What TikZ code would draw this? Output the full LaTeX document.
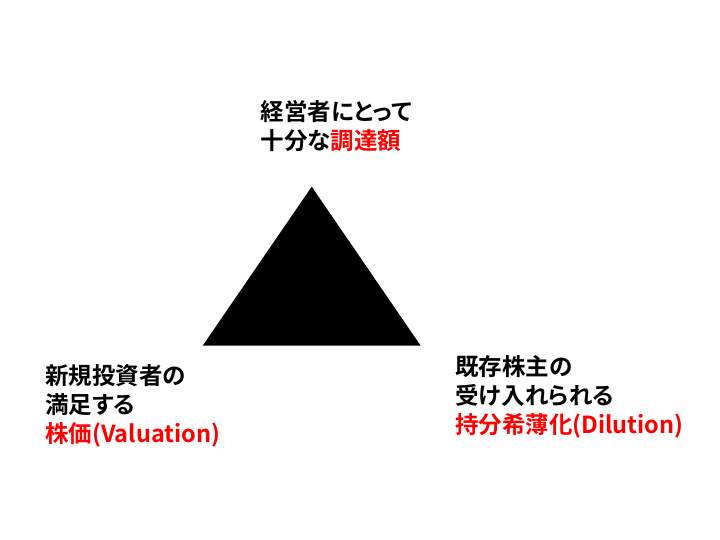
\documentclass[tikz,border=0pt]{standalone}
\usepackage{fontspec}
\setmainfont{Noto Sans CJK JP}[BoldFont={* Bold},RawFeature=+palt]
\usetikzlibrary{positioning}
\definecolor{Ink}{RGB}{0,0,0}
\definecolor{Alert}{RGB}{255,0,0}
\tikzset{
  corner/.style={anchor=base west,align=left,inner sep=0pt,text=Ink,font=\bfseries\fontsize{23.5pt}{29pt}\selectfont}
}
\newcommand{\hl}[1]{\textcolor{Alert}{#1}}

\begin{document}
\begin{tikzpicture}[x=1pt,y=-1pt]
  \useasboundingbox[fill=white] (0,0) rectangle (720,540);
  \coordinate (apex) at (311.7,186.7);
  \coordinate (baseL) at (202.7,345.7);
  \coordinate (baseR) at (420.7,345.7);
  \fill[Ink] (apex) -- (baseL) -- (baseR) -- cycle;
  % base anchor sits on the last line
  \node[corner] (funds) at (260.7,149.5) {経営者にとって\\十分な\hl{調達額}};
  \node[corner] (investor) at (45,442) {新規投資者の\\満足する\\\hl{株価(Valuation)}};
  \node[corner] (holder) at (455,433.5) {既存株主の\\受け入れられる\\\hl{持分希薄化(Dilution)}};
\end{tikzpicture}
\end{document}
